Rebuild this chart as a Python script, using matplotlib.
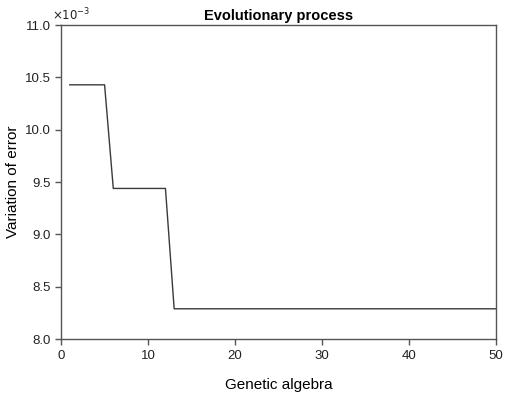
import matplotlib
matplotlib.use("Agg")
import matplotlib.pyplot as plt

plt.rcParams["font.family"] = ["Liberation Sans", "DejaVu Sans"]

# ── Data: error per generation (in units of 1e-3) ────────────────────────────
generations = list(range(1, 51))
error_e3 = [10.43] * 5 + [9.44] * 7 + [8.29] * 38
y_ticks = [8.0, 8.5, 9.0, 9.5, 10.0, 10.5, 11.0]
x_ticks = [0, 10, 20, 30, 40, 50]

fig = plt.figure(figsize=(5.05, 3.93), dpi=100, facecolor="white")
ax = fig.add_axes([0.121, 0.137, 0.861, 0.799])

ax.plot(generations, error_e3, color="#3a3a3a", linewidth=1.0)

ax.set_xlim(0, 50)
ax.set_ylim(8.0, 11.0)
ax.set_xticks(x_ticks)
ax.set_yticks(y_ticks)
ax.set_yticklabels([f"{v:.1f}" for v in y_ticks])

# scale marker like the original
ax.text(-0.02, 1.005, r"$\times10^{-3}$", transform=ax.transAxes,
        fontsize=8.5, ha="left", va="bottom", color="#222222")

for s in ax.spines.values():
    s.set_color("#555555")
    s.set_linewidth(1.0)
ax.tick_params(direction="out", length=4, width=1.0, color="#555555",
               labelsize=9.5, labelcolor="#222222")

ax.set_title("Evolutionary process", fontsize=10.5, fontweight="bold", pad=4)
ax.set_xlabel("Genetic algebra", fontsize=11, labelpad=12)
ax.set_ylabel("Variation of error", fontsize=11)
ax.yaxis.set_label_coords(-0.095, 0.5)

fig.savefig("out.png", dpi=100, facecolor="white")
